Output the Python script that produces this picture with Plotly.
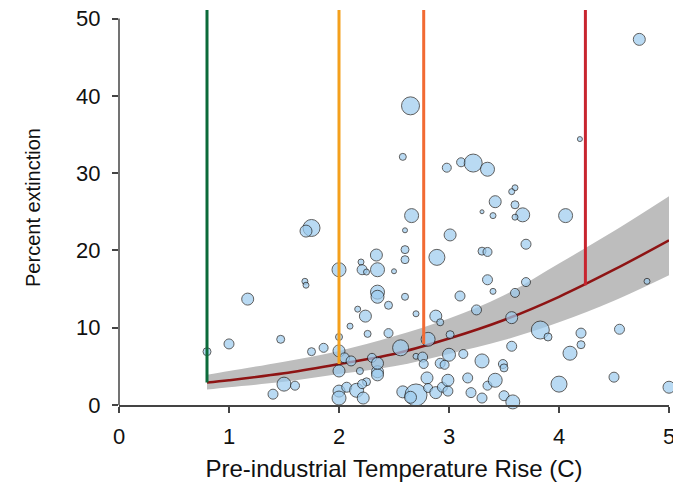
import plotly.graph_objects as go

# ---- data ----
bub_x = [0.80, 1.00, 1.17, 1.40, 1.50, 1.60, 1.47, 1.75, 1.69, 1.70, 1.75, 1.70, 1.86,
         2.00, 2.00, 2.00, 2.00, 2.00, 2.00, 2.05, 2.11, 2.07, 2.16, 2.22, 2.19, 2.25,
         2.21, 2.35, 2.35, 2.30, 2.35, 2.26, 2.10, 2.17, 2.24, 2.45, 2.45, 2.35, 2.35,
         2.20, 2.34, 2.21, 2.25, 2.35, 2.50, 2.60, 2.60, 2.60, 2.70, 2.88, 2.92, 2.89,
         2.66, 2.60, 3.01, 2.56, 2.81, 3.01, 2.70, 2.76, 2.77, 3.00, 2.92, 2.96, 3.13,
         3.30, 3.49, 3.50, 3.57, 3.57, 3.83, 3.90, 4.20, 4.20, 4.10, 4.55, 4.80, 4.06,
         3.67, 3.60, 3.40, 3.30, 3.60, 3.42, 3.70, 3.30, 3.35, 3.35, 3.40, 3.60, 3.70,
         3.10, 3.25, 2.58, 2.70, 2.65, 2.80, 2.81, 2.88, 2.94, 2.99, 2.99, 3.17, 3.20,
         3.30, 3.35, 3.42, 3.50, 3.58, 4.00, 4.50, 5.00, 4.73, 4.19, 2.65, 2.58, 2.98,
         3.11, 3.22, 3.35, 3.60, 3.57]
bub_y = [6.9, 7.9, 13.7, 1.4, 2.7, 2.5, 8.5, 6.9, 16.0, 15.5, 22.9, 22.5, 7.4,
         8.8, 7.0, 4.4, 17.5, 1.8, 0.9, 6.1, 5.7, 2.3, 1.9, 0.9, 4.4, 3.0,
         2.7, 4.3, 3.9, 6.1, 5.4, 9.2, 10.2, 12.4, 11.5, 12.9, 9.3, 14.6, 14.0,
         18.5, 19.4, 17.5, 17.2, 17.5, 17.3, 20.1, 18.8, 14.0, 11.8, 11.5, 10.7, 19.1,
         24.5, 22.6, 22.0, 7.4, 8.5, 9.1, 6.3, 6.2, 5.3, 6.5, 5.4, 5.2, 6.6,
         5.7, 5.3, 4.8, 7.6, 11.3, 9.7, 8.8, 9.3, 7.8, 6.7, 9.8, 16.0, 24.5,
         24.6, 24.3, 24.5, 25.0, 25.9, 26.3, 20.8, 19.9, 19.8, 16.2, 14.7, 14.5, 15.9,
         14.1, 12.3, 1.7, 1.3, 1.0, 3.5, 2.2, 1.6, 2.3, 3.2, 1.8, 3.5, 1.6,
         0.9, 2.5, 3.2, 1.2, 0.4, 2.7, 3.6, 2.3, 47.3, 34.4, 38.7, 32.1, 30.7,
         31.4, 31.3, 30.5, 28.1, 27.6]
bub_w = [8, 10, 12, 10, 14, 9, 8, 8, 6, 6, 17, 12, 9,
         7, 12, 12, 14, 12, 14, 10, 10, 10, 14, 12, 7, 8,
         9, 12, 12, 9, 12, 7, 6, 6, 12, 8, 9, 14, 13,
         6, 12, 10, 6, 14, 5, 8, 8, 7, 6, 12, 7, 16,
         14, 5, 12, 16, 14, 8, 6, 10, 9, 13, 10, 9, 9,
         14, 9, 8, 10, 12, 18, 8, 10, 8, 14, 10, 6, 14,
         14, 6, 6, 4, 8, 12, 10, 8, 9, 10, 6, 9, 9,
         10, 10, 12, 22, 12, 12, 9, 12, 10, 12, 10, 10, 10,
         10, 9, 14, 10, 14, 16, 10, 12, 12, 5, 18, 7, 9,
         9, 18, 14, 6, 6]

fit_x = [0.8, 1.0, 1.5, 2.0, 2.5, 3.0, 3.5, 4.0, 4.5, 5.0]
fit_mid = [2.9, 3.2, 4.1, 5.3, 6.6, 8.6, 11.0, 14.0, 17.5, 21.3]
fit_hi = [3.9, 4.4, 5.6, 7.0, 8.9, 11.2, 14.2, 18.3, 22.5, 27.0]
fit_lo = [2.0, 2.3, 3.0, 4.0, 5.0, 6.6, 8.4, 10.7, 13.5, 16.8]

thr_x = [0.80, 2.00, 2.77, 4.24]
thr_base = [2.9, 5.3, 7.9, 15.5]
thr_top = 51.1
thr_colors = ["#0b6b3a", "#f4a01c", "#f26a33", "#c8252f"]

x_ticks = [0, 1, 2, 3, 4, 5]
y_ticks = [0, 10, 20, 30, 40, 50]

fig = go.Figure()

# confidence band
fig.add_trace(go.Scatter(x=fit_x, y=fit_hi, mode="lines", line=dict(width=0, shape="spline"),
                         hoverinfo="skip", showlegend=False))
fig.add_trace(go.Scatter(x=fit_x, y=fit_lo, mode="lines", line=dict(width=0, shape="spline"),
                         fill="tonexty", fillcolor="#bdbdbd", hoverinfo="skip", showlegend=False))
# fit curve
fig.add_trace(go.Scatter(x=fit_x, y=fit_mid, mode="lines",
                         line=dict(color="#8e1414", width=2.5, shape="spline"), showlegend=False))

# bubbles
fig.add_trace(go.Scatter(x=bub_x, y=bub_y, mode="markers", cliponaxis=False,
                         marker=dict(size=bub_w, color="#9ccbee",
                                     line=dict(color="#1c1c1c", width=1)),
                         showlegend=False))

# threshold lines
for xv, yb, c in zip(thr_x, thr_base, thr_colors):
    fig.add_trace(go.Scatter(x=[xv, xv], y=[yb, thr_top], mode="lines",
                             line=dict(color=c, width=3), showlegend=False))

# y spine from 0 to 50
fig.add_shape(type="line", xref="paper", yref="y", x0=0, x1=0, y0=y_ticks[0], y1=y_ticks[-1],
              line=dict(color="#444444", width=1.5))

font = "Liberation Sans, Arial, sans-serif"
fig.update_layout(
    width=673, height=480,
    margin=dict(l=111, r=12, t=2, b=83),
    paper_bgcolor="white", plot_bgcolor="white",
    font=dict(family=font, color="#111111"),
    xaxis=dict(range=[0, 5], tickvals=x_ticks, showgrid=False, zeroline=False,
               automargin=False, ticklabeloverflow="allow",
               showline=True, linecolor="#444444", linewidth=1.5,
               ticks="outside", ticklen=6, tickwidth=1.5, tickcolor="#444444",
               tickfont=dict(size=22), ticklabelstandoff=5,
               title=dict(text="Pre-industrial Temperature Rise (C)", font=dict(size=24),
                          standoff=12)),
    yaxis=dict(range=[0, thr_top], tickvals=y_ticks, showgrid=False, zeroline=False,
               automargin=False, showline=False, ticklabeloverflow="allow",
               ticks="outside", ticklen=6, tickwidth=1.5, tickcolor="#444444",
               tickfont=dict(size=22), ticklabelstandoff=7,
               title=dict(text="Percent extinction", font=dict(size=20), standoff=30)),
)

fig.write_html("out.html")
